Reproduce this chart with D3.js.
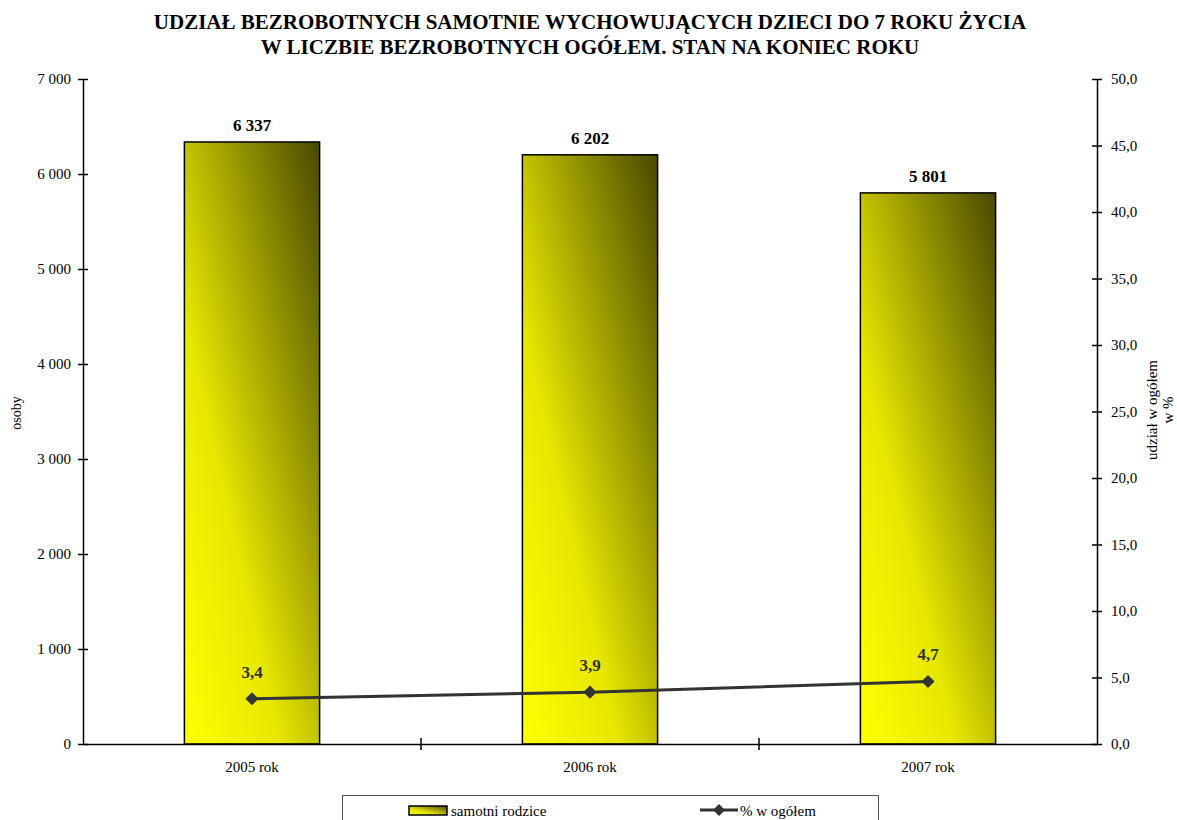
<!DOCTYPE html>
<html>
<head>
<meta charset="utf-8">
<script src="https://cdn.jsdelivr.net/npm/d3@7"></script>
<style>
  body { margin: 0; background: #fff; }
  text { font-family: "Liberation Serif", "Times New Roman", serif; }
</style>
</head>
<body>
<div id="chart"></div>
<script>
const years = ["2005 rok", "2006 rok", "2007 rok"];
const parents = [6337, 6202, 5801];
const shares = [3.4, 3.9, 4.7];
const leftTicks = [0, 1000, 2000, 3000, 4000, 5000, 6000, 7000];
const rightTicks = [0, 5, 10, 15, 20, 25, 30, 35, 40, 45, 50];

const W = 1177, H = 820;
const plot = {left: 83, right: 1097, top: 79, bottom: 744};

const pl = d3.formatLocale({decimal: ",", thousands: " ", grouping: [3], currency: ["", ""]});
const fmtInt = pl.format(",d");
const fmt1 = pl.format(".1f");

const svg = d3.select("#chart").append("svg")
    .attr("width", W).attr("height", H);

const grad = svg.append("defs").append("linearGradient")
    .attr("id", "barGrad")
    .attr("x1", 0).attr("y1", 1).attr("x2", 1).attr("y2", 0);
grad.append("stop").attr("offset", "0%").attr("stop-color", "#ffff00");
grad.append("stop").attr("offset", "35%").attr("stop-color", "#e8e800");
grad.append("stop").attr("offset", "100%").attr("stop-color", "#494900");

const x = d3.scaleBand().domain(years).range([plot.left, plot.right]).paddingInner(0).paddingOuter(0);
const y = d3.scaleLinear().domain([0, 7000]).range([plot.bottom, plot.top]);
const y2 = d3.scaleLinear().domain([0, 50]).range([plot.bottom, plot.top]);
const barW = x.bandwidth() * 0.40;

// title
svg.append("text")
    .attr("x", 590).attr("y", 29)
    .attr("text-anchor", "middle")
    .style("font-size", "21px").style("font-weight", "bold")
    .text("UDZIAŁ BEZROBOTNYCH SAMOTNIE WYCHOWUJĄCYCH DZIECI DO 7 ROKU ŻYCIA");
svg.append("text")
    .attr("x", 590).attr("y", 54)
    .attr("text-anchor", "middle")
    .style("font-size", "21px").style("font-weight", "bold")
    .text("W LICZBIE BEZROBOTNYCH OGÓŁEM. STAN NA KONIEC ROKU");

// bars
svg.append("g").selectAll("rect")
    .data(parents)
    .join("rect")
    .attr("x", (d, i) => x(years[i]) + (x.bandwidth() - barW) / 2)
    .attr("y", d => y(d))
    .attr("width", barW)
    .attr("height", d => y(0) - y(d))
    .attr("fill", "url(#barGrad)")
    .attr("stroke", "#000")
    .attr("stroke-width", 1.5);

svg.append("g").selectAll("text")
    .data(parents)
    .join("text")
    .attr("x", (d, i) => x(years[i]) + x.bandwidth() / 2)
    .attr("y", d => y(d) - 11)
    .attr("text-anchor", "middle")
    .style("font-size", "17px").style("font-weight", "bold")
    .text(d => fmtInt(d));

// axes
const leftAxis = d3.axisLeft(y).tickValues(leftTicks).tickFormat(fmtInt).tickSizeInner(5).tickSizeOuter(0).tickPadding(8);
const gl = svg.append("g").attr("transform", `translate(${plot.left},0)`).call(leftAxis);
const rightAxis = d3.axisRight(y2).tickValues(rightTicks).tickFormat(fmt1).tickSizeInner(5).tickSizeOuter(0).tickPadding(9);
const gr = svg.append("g").attr("transform", `translate(${plot.right},0)`).call(rightAxis);
[gl, gr].forEach(g => {
  g.select(".domain").attr("stroke", "#000").attr("stroke-width", 1.5);
  g.selectAll(".tick line").attr("stroke", "#000").attr("stroke-width", 1.5)
    .attr("x1", -5).attr("x2", 5);
  g.selectAll(".tick text").style("font-size", "15px").attr("fill", "#000")
    .attr("font-family", "Liberation Serif");
});
gl.selectAll(".tick text").attr("x", -12);
gr.selectAll(".tick text").attr("x", 14);

const bottomAxis = d3.axisBottom(x).tickSize(0).tickPadding(17);
const gb = svg.append("g").attr("transform", `translate(0,${plot.bottom})`).call(bottomAxis);
gb.select(".domain").attr("stroke", "#000").attr("stroke-width", 1.5);
gb.selectAll(".tick text").style("font-size", "15px").attr("fill", "#000")
  .attr("font-family", "Liberation Serif");
gb.selectAll("line.sep")
  .data(years.slice(1))
  .join("line")
  .attr("class", "sep")
  .attr("x1", d => x(d)).attr("x2", d => x(d))
  .attr("y1", -6).attr("y2", 6)
  .attr("stroke", "#000").attr("stroke-width", 1.5);

// axis titles
svg.append("text")
    .attr("transform", "translate(21,413) rotate(-90)")
    .attr("text-anchor", "middle")
    .style("font-size", "14px")
    .text("osoby");
svg.append("text")
    .attr("transform", "translate(1157,410) rotate(-90)")
    .attr("text-anchor", "middle")
    .style("font-size", "15px")
    .text("udział w ogółem");
svg.append("text")
    .attr("transform", "translate(1173,410) rotate(-90)")
    .attr("text-anchor", "middle")
    .style("font-size", "15px")
    .text("w %");

// line series
const line = d3.line()
    .x((d, i) => x(years[i]) + x.bandwidth() / 2)
    .y(d => y2(d));
svg.append("path")
    .datum(shares)
    .attr("d", line)
    .attr("fill", "none")
    .attr("stroke", "#333")
    .attr("stroke-width", 3);
svg.append("g").selectAll("path")
    .data(shares)
    .join("path")
    .attr("transform", (d, i) => `translate(${x(years[i]) + x.bandwidth() / 2},${y2(d)})`)
    .attr("d", d3.symbol(d3.symbolDiamond2, 110))
    .attr("fill", "#333");
svg.append("g").selectAll("text")
    .data(shares)
    .join("text")
    .attr("x", (d, i) => x(years[i]) + x.bandwidth() / 2)
    .attr("y", d => y2(d) - 21)
    .attr("text-anchor", "middle")
    .attr("fill", "#333")
    .style("font-size", "17px").style("font-weight", "bold")
    .text(d => fmt1(d));

// legend
const lg = svg.append("g");
lg.append("rect")
    .attr("x", 342.5).attr("y", 795.5).attr("width", 536).attr("height", 40)
    .attr("fill", "#fff").attr("stroke", "#555").attr("stroke-width", 1);
lg.append("rect")
    .attr("x", 409).attr("y", 806).attr("width", 38).attr("height", 9)
    .attr("fill", "url(#barGrad)").attr("stroke", "#000").attr("stroke-width", 1.5);
lg.append("text").attr("x", 451).attr("y", 816).style("font-size", "15px").text("samotni rodzice");
lg.append("line").attr("x1", 700).attr("x2", 738).attr("y1", 810).attr("y2", 810)
    .attr("stroke", "#333").attr("stroke-width", 3);
lg.append("path").attr("transform", "translate(719,810)")
    .attr("d", d3.symbol(d3.symbolDiamond2, 90)).attr("fill", "#333");
lg.append("text").attr("x", 740).attr("y", 816).style("font-size", "15px").text("% w ogółem");
</script>
</body>
</html>
